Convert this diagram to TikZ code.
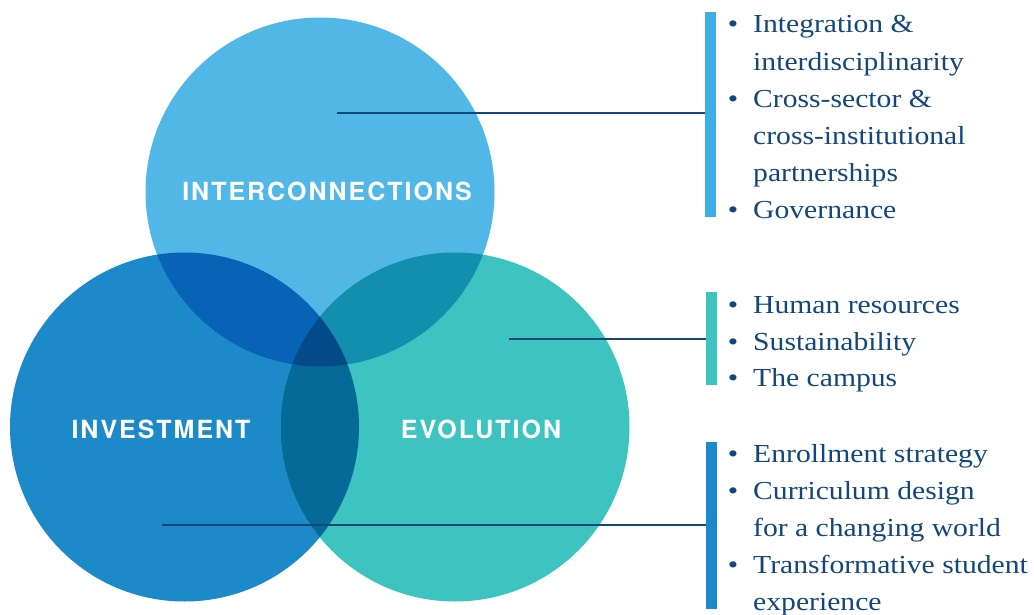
\documentclass[tikz,border=0pt]{standalone}
\usepackage{fontspec}
\setmainfont{Liberation Serif}[FakeStretch=1.14]
\newfontfamily\labelfont{texgyreheros-bold.otf}[LetterSpace=8]
\definecolor{colT}{HTML}{50B7E6}
\definecolor{colL}{HTML}{1C8AC9}
\definecolor{colR}{HTML}{3EC4C0}
\definecolor{colTL}{HTML}{0663B6}
\definecolor{colTR}{HTML}{138EAD}
\definecolor{colLR}{HTML}{066A98}
\definecolor{colC}{HTML}{024A88}
\definecolor{navy}{HTML}{13467A}
\definecolor{barT}{HTML}{3DAEE3}
\tikzset{
  circlabel/.style={text=white, font=\labelfont\fontsize{25}{29}\selectfont, inner sep=0pt, anchor=center},
  bar/.style={rectangle, inner sep=0pt, minimum width=11pt, draw=none},
  leader/.style={draw=navy, line width=1.4pt},
  itemtext/.style={text=navy, font=\fontsize{26}{30}\selectfont, inner sep=0pt, anchor=base west},
  bul/.style={text=navy, font=\fontsize{26}{30}\selectfont, inner sep=0pt, anchor=base}
}
\begin{document}
\begin{tikzpicture}[x=1pt,y=-1pt]
\useasboundingbox (0,0) rectangle (1034,615);
\coordinate (cT) at (320,192);
\coordinate (cL) at (184.5,427);
\coordinate (cR) at (455,427);
\def\rr{174.5pt}
% circles
\fill[colL] (cL) circle (\rr);
\fill[colR] (cR) circle (\rr);
\fill[colT] (cT) circle (\rr);
\begin{scope}
  \clip (cT) circle (\rr);
  \fill[colTL] (cL) circle (\rr);
  \fill[colTR] (cR) circle (\rr);
\end{scope}
\begin{scope}
  \clip (cL) circle (\rr);
  \fill[colLR] (cR) circle (\rr);
  \clip (cT) circle (\rr);
  \fill[colC] (cR) circle (\rr);
\end{scope}
% labels
\node[circlabel] (labT) at (327,191) {INTERCONNECTIONS};
\node[circlabel] (labL) at (161,429) {INVESTMENT};
\node[circlabel] (labR) at (481,429) {EVOLUTION};
% bars
\node[bar, fill=barT, minimum height=205pt] (bT) at (710.5,114.5) {};
\node[bar, fill=colR, minimum height=93pt] (bR) at (711.5,338.5) {};
\node[bar, fill=colL, minimum height=167pt] (bL) at (711.5,525.5) {};
% leaders
\coordinate (sT) at (337,113);
\coordinate (sR) at (509,339);
\coordinate (sL) at (162,525);
\draw[leader] (sT) -- (sT -| bT.west);
\draw[leader] (sR) -- (sR -| bR.west);
\draw[leader] (sL) -- (sL -| bL.west);
% top list
\node[bul] (b1) at (733,33) {\textbullet};
\node[itemtext] (t1) at (753,33) {Integration \&};
\node[itemtext] (t2) at (753,70.5) {interdisciplinarity};
\node[bul] (b2) at (733,107.5) {\textbullet};
\node[itemtext] (t3) at (753,107.5) {Cross-sector \&};
\node[itemtext] (t4) at (753,144.5) {cross-institutional};
\node[itemtext] (t5) at (753,181.5) {partnerships};
\node[bul] (b3) at (733,218.5) {\textbullet};
\node[itemtext] (t6) at (753,218.5) {Governance};
% middle list
\node[bul] (b4) at (733,313) {\textbullet};
\node[itemtext] (t7) at (753,313) {Human resources};
\node[bul] (b5) at (733,350) {\textbullet};
\node[itemtext] (t8) at (753,350) {Sustainability};
\node[bul] (b6) at (733,386.5) {\textbullet};
\node[itemtext] (t9) at (753,386.5) {The campus};
% bottom list
\node[bul] (b7) at (733,462) {\textbullet};
\node[itemtext] (t10) at (753,462) {Enrollment strategy};
\node[bul] (b8) at (733,499) {\textbullet};
\node[itemtext] (t11) at (753,499) {Curriculum design};
\node[itemtext] (t12) at (753,536) {for a changing world};
\node[bul] (b9) at (733,573) {\textbullet};
\node[itemtext] (t13) at (753,573) {Transformative student};
\node[itemtext] (t14) at (753,610) {experience};
\end{tikzpicture}
\end{document}
